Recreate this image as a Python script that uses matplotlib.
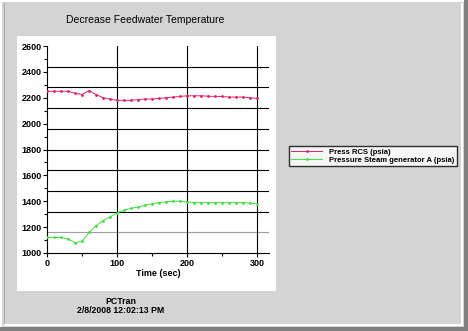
import numpy as np
from matplotlib import pyplot as plt
from matplotlib.patches import Rectangle
from matplotlib.ticker import MultipleLocator

plt.rcParams['font.family'] = ['Liberation Sans', 'DejaVu Sans']

time = list(range(0, 301, 10))
press_rcs = [2250, 2250, 2250, 2250, 2235, 2225, 2255, 2225, 2200, 2190,
             2180, 2180, 2180, 2185, 2190, 2190, 2195, 2200, 2205, 2210,
             2215, 2215, 2215, 2212, 2210, 2210, 2205, 2205, 2205, 2200, 2195]
press_sg = [1120, 1120, 1120, 1110, 1080, 1090, 1160, 1210, 1250, 1280,
            1310, 1330, 1345, 1355, 1370, 1380, 1390, 1395, 1400, 1400,
            1395, 1390, 1390, 1390, 1390, 1390, 1390, 1390, 1390, 1385, 1380]
labels = ['Press RCS (psia)', 'Pressure Steam generator A (psia)']
grid_y = [1160, 1320, 1480, 1640, 1800, 1960, 2120, 2280, 2440]

W, H = 468, 331
fig = plt.figure(figsize=(W / 100, H / 100), dpi=100, facecolor='#d4d4d4')


def box(x, y, w, h, **kw):
    # rectangle in pixel coords from the top-left corner
    fig.patches.append(Rectangle((x / W, 1 - (y + h) / H), w / W, h / H,
                                 transform=fig.transFigure, zorder=-1, **kw))


# window frame
box(0, 0, W, 2, facecolor='white', edgecolor='none')
box(0, 0, 2, H, facecolor='white', edgecolor='none')
box(4, 3, 1, 323, facecolor='#a8a8a8', edgecolor='none')
box(461, 3, 1.5, 323, facecolor='white', edgecolor='none')
box(4, 324, 458, 1.5, facecolor='white', edgecolor='none')
box(464, 0, 4, H, facecolor='#808080', edgecolor='none')
box(0, 327, W, 4, facecolor='#808080', edgecolor='none')
# white chart panel
box(17, 36, 259, 255, facecolor='white', edgecolor='none')

ax = fig.add_axes([47 / W, 1 - 253 / H, 222 / W, 207 / H])
ax.set_facecolor('white')

for g in grid_y:
    ax.axhline(g, color='#a0a0a0' if g == 1160 else 'black', lw=0.8, zorder=1)
for g in [100, 200, 300]:
    ax.axvline(g, color='black', lw=0.8, zorder=1)

ax.plot(time, press_rcs, color='#e0206a', lw=0.7, marker='.', ms=2, label=labels[0], zorder=3)
ax.plot(time, press_sg, color='#40e040', lw=0.7, marker='.', ms=2, label=labels[1], zorder=3)

ax.set_xlim(0, 317)
ax.set_ylim(1000, 2600)
ax.xaxis.set_major_locator(MultipleLocator(100))
ax.xaxis.set_minor_locator(MultipleLocator(50))
ax.yaxis.set_major_locator(MultipleLocator(200))
ax.yaxis.set_minor_locator(MultipleLocator(100))
ax.tick_params(labelsize=6.5, length=3, width=0.8, direction='out', pad=1)
ax.tick_params(which='minor', length=2, width=0.8)
for t in ax.get_xticklabels() + ax.get_yticklabels():
    t.set_fontweight('bold')
for s in ['top', 'right']:
    ax.spines[s].set_visible(False)
ax.set_xlabel('Time (sec)', fontsize=6.5, fontweight='bold', labelpad=1)

fig.text(145 / W, 1 - 20 / H, 'Decrease Feedwater Temperature', ha='center', va='center', fontsize=7.5)

leg = fig.legend(loc='center left', bbox_to_anchor=(289 / W, 1 - 156 / H), fontsize=5.5,
                 frameon=True, fancybox=False, edgecolor='black', borderpad=0.3,
                 handlelength=4.0, handletextpad=1.0, labelspacing=0.1, borderaxespad=0)
leg.get_frame().set_linewidth(1.0)
for t in leg.get_texts():
    t.set_fontweight('bold')

fig.text(121 / W, 1 - 306 / H, 'PCTran\n2/8/2008 12:02:13 PM', ha='center', va='center',
         fontsize=6.3, fontweight='bold', linespacing=1.0)

fig.savefig('out.png', dpi=100, facecolor=fig.get_facecolor())
